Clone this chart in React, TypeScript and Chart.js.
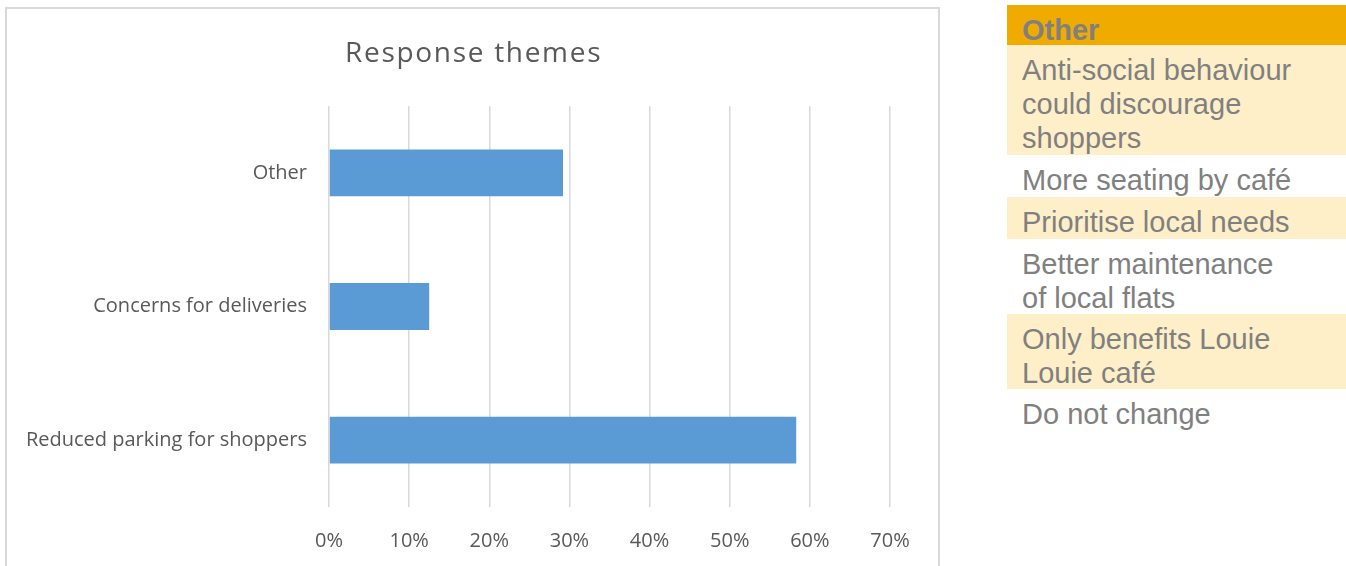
import React, { useEffect, useRef } from "react";
import { Chart, registerables } from "chart.js";

Chart.register(...registerables);

const chartTitle = "Response themes";
const categories = ["Other", "Concerns for deliveries", "Reduced parking for shoppers"];
const shares = [29.2, 12.5, 58.3];
const axisMax = 70;
const axisStep = 10;

const panelHeader = "Other";
const panelRows: string[][] = [
  ["Anti-social behaviour", "could discourage", "shoppers"],
  ["More seating by café"],
  ["Prioritise local needs"],
  ["Better maintenance", "of local flats"],
  ["Only benefits Louie", "Louie café"],
  ["Do not change"],
];

const FONT = "'Open Sans', sans-serif";
const GREY = "#595959";

export default function App() {
  const ref = useRef<HTMLCanvasElement | null>(null);

  useEffect(() => {
    if (!ref.current) return;
    const chart = new Chart(ref.current, {
      type: "bar",
      data: {
        labels: categories,
        datasets: [
          {
            data: shares,
            backgroundColor: "#5B9BD5",
            borderWidth: 0,
            categoryPercentage: 1,
            barPercentage: 0.35,
          },
        ],
      },
      options: {
        indexAxis: "y",
        animation: false,
        responsive: false,
        layout: { padding: { left: 0, right: 50, top: 106, bottom: 0 } },
        plugins: {
          legend: { display: false },
          tooltip: { enabled: false },
          title: { display: false },
        },
        scales: {
          x: {
            min: 0,
            max: axisMax,
            border: { display: false },
            grid: { color: "#d9d9d9", lineWidth: 1.5, drawTicks: false },
            ticks: {
              stepSize: axisStep,
              padding: 22,
              color: GREY,
              font: { family: FONT, size: 20 },
              callback: (v: any) => v + "%",
            },
            afterFit: (s: any) => {
              s.height = 59;
            },
          },
          y: {
            border: { display: false },
            grid: { display: false, drawTicks: false },
            ticks: {
              padding: 22,
              color: GREY,
              font: { family: FONT, size: 20 },
            },
            afterFit: (s: any) => {
              s.width = 329;
            },
          },
        },
      },
    });
    return () => chart.destroy();
  }, []);

  const rowStyle = (i: number, lines: number): React.CSSProperties => ({
    background: i % 2 === 0 ? "#FFEFC8" : "#FFFFFF",
    height: lines === 1 ? 42 : lines === 2 ? 75 : 110,
    boxSizing: "border-box",
    paddingTop: 8,
    paddingLeft: 15,
    lineHeight: "34px",
    overflow: "hidden",
  });

  return (
    <div
      style={{
        position: "absolute",
        left: 0,
        top: 0,
        width: 1346,
        height: 566,
        overflow: "hidden",
        background: "#fff",
      }}
    >
      <div
        style={{
          position: "absolute",
          left: 5,
          top: 7,
          width: 935,
          height: 600,
          boxSizing: "border-box",
          border: "2px solid #d9d9d9",
        }}
      />
      <canvas
        ref={ref}
        width={940}
        height={566}
        style={{ position: "absolute", left: 0, top: 0, width: 940, height: 566 }}
      />
      <div
        style={{
          position: "absolute",
          left: 345,
          top: 34,
          fontFamily: FONT,
          fontSize: 28,
          lineHeight: "34px",
          letterSpacing: "1.7px",
          color: GREY,
          whiteSpace: "nowrap",
        }}
      >
        {chartTitle}
      </div>
      <div
        style={{
          position: "absolute",
          left: 1007,
          top: 5,
          width: 339,
          fontFamily: "'Liberation Sans', Arial, sans-serif",
          fontSize: 29,
          color: "#808080",
        }}
      >
        <div
          style={{
            background: "#F0AB00",
            height: 40,
            boxSizing: "border-box",
            paddingTop: 8,
            paddingLeft: 15,
            lineHeight: "34px",
            fontWeight: "bold",
            overflow: "hidden",
          }}
        >
          {panelHeader}
        </div>
        {panelRows.map((lines, i) => (
          <div key={i} style={rowStyle(i, lines.length)}>
            {lines.map((l, j) => (
              <div key={j}>{l}</div>
            ))}
          </div>
        ))}
      </div>
    </div>
  );
}
